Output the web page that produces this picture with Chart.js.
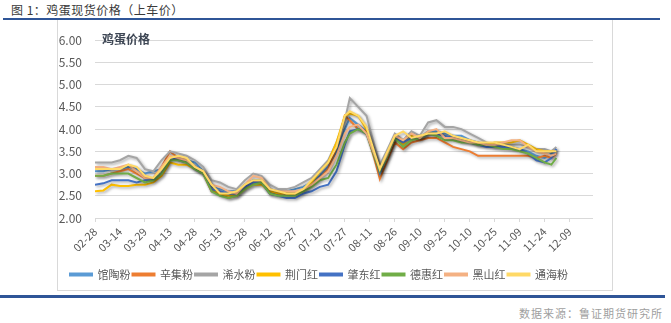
<!DOCTYPE html>
<html>
<head>
<meta charset="utf-8">
<script src="https://cdn.jsdelivr.net/npm/chart.js@4"></script>
<style>
  body { margin: 0; width: 671px; height: 323px; background: #fff; position: relative; overflow: hidden;
         font-family: "Noto Sans CJK SC", "Noto Sans", sans-serif; }
  #fig-title { position: absolute; left: 11px; top: 1px; font-size: 12px; color: #3a3a3a; letter-spacing: 0.5px; }
  #top-rule { position: absolute; left: 3px; top: 18px; width: 657px; height: 2px; background: #2f5597; }
  #frame { position: absolute; left: 57px; top: 20px; width: 554px; height: 270px; border: 1px solid #d9d9d9; border-top: none; }
  #bottom-rule { position: absolute; left: 0; top: 295px; width: 665px; height: 3px; background: #2f5597; }
  #source { position: absolute; right: 8px; top: 305px; font-size: 11px; color: #a0a0a0; letter-spacing: 1px; }
  #inner-title { position: absolute; left: 102px; top: 30px; font-size: 12px; font-weight: bold; color: #3d4654; }
  #wrap { position: absolute; left: 45px; top: 20px; width: 548px; height: 270px; }
</style>
</head>
<body>
<div id="fig-title">图 1：鸡蛋现货价格（上车价）</div>
<div id="top-rule"></div>
<div id="frame"></div>
<div id="wrap"><canvas id="eggChart" width="548" height="270"></canvas></div>
<div id="inner-title">鸡蛋价格</div>
<div id="bottom-rule"></div>
<div id="source">数据来源：鲁证期货研究所</div>
<script>
// days counted from 02-28
const days = [0, 5, 10, 15, 20, 25, 30, 35, 40, 45, 50, 55, 60, 65, 70, 75, 80, 85, 90, 95,
  100, 105, 110, 115, 120, 125, 130, 135, 140, 145, 150, 153, 158, 163, 168, 171, 175, 180, 185, 190,
  195, 200, 205, 210, 215, 220, 225, 230, 235, 240, 245, 250, 255, 260, 265, 270, 274, 277];

const tickLabels = ["02-28", "03-14", "03-29", "04-13", "04-28", "05-13", "05-28", "06-12", "06-27", "07-12",
  "07-27", "08-11", "08-26", "09-10", "09-25", "10-10", "10-25", "11-09", "11-24", "12-09"];

const seriesNames = ["馆陶粉", "辛集粉", "浠水粉", "荆门红", "肇东红", "德惠红", "黑山红", "通海粉"];
const seriesColors = ["#5b9bd5", "#ed7d31", "#a5a5a5", "#ffc000", "#4472c4", "#70ad47", "#f4b183", "#ffd966"];

const guantao = [3.05, 3.05, 3.10, 3.10, 3.15, 3.10, 3.00, 3.05, 3.10, 3.35,
  3.35, 3.30, 3.25, 3.05, 2.70, 2.65, 2.60, 2.60, 2.75, 2.85,
  2.85, 2.65, 2.60, 2.60, 2.65, 2.70, 2.80, 2.95, 3.15, 3.50,
  4.00, 4.25, 4.10, 3.95, 3.40, 3.05, 3.40, 3.85, 3.70, 3.85,
  3.80, 3.95, 3.95, 3.90, 3.85, 3.85, 3.75, 3.70, 3.65, 3.60,
  3.60, 3.60, 3.55, 3.50, 3.40, 3.35, 3.45, 3.55];
const xinji = [2.95, 2.95, 3.00, 3.05, 3.10, 3.00, 2.90, 2.90, 3.15, 3.50,
  3.35, 3.30, 3.15, 3.00, 2.60, 2.55, 2.45, 2.50, 2.70, 2.80,
  2.80, 2.55, 2.55, 2.55, 2.55, 2.60, 2.75, 2.90, 3.10, 3.60,
  4.30, 4.20, 4.00, 3.95, 3.30, 2.88, 3.25, 3.70, 3.55, 3.70,
  3.75, 3.80, 3.80, 3.70, 3.60, 3.55, 3.50, 3.40, 3.40, 3.40,
  3.40, 3.40, 3.40, 3.40, 3.35, 3.40, 3.35, 3.45];
const xishui = [3.25, 3.25, 3.25, 3.30, 3.40, 3.35, 3.10, 3.05, 3.30, 3.50,
  3.45, 3.40, 3.30, 3.15, 2.85, 2.80, 2.70, 2.65, 2.85, 3.00,
  2.95, 2.75, 2.65, 2.65, 2.70, 2.80, 2.90, 3.10, 3.30, 3.70,
  4.20, 4.70, 4.50, 4.30, 3.60, 3.20, 3.50, 3.90, 3.75, 3.95,
  3.85, 4.15, 4.20, 4.05, 4.05, 4.00, 3.90, 3.80, 3.70, 3.65,
  3.65, 3.65, 3.65, 3.60, 3.55, 3.55, 3.50, 3.60];
const jingmen = [2.60, 2.62, 2.75, 2.72, 2.72, 2.75, 2.75, 2.80, 2.95, 3.25,
  3.20, 3.20, 3.10, 3.00, 2.65, 2.55, 2.50, 2.50, 2.65, 2.75,
  2.75, 2.60, 2.55, 2.55, 2.50, 2.60, 2.80, 3.05, 3.25, 3.70,
  4.30, 4.35, 4.30, 4.00, 3.40, 3.00, 3.35, 3.80, 3.65, 3.85,
  3.80, 3.90, 3.90, 3.85, 3.80, 3.75, 3.75, 3.65, 3.65, 3.70,
  3.70, 3.70, 3.75, 3.65, 3.55, 3.50, 3.50, 3.50];
const zhaodong = [2.75, 2.78, 2.85, 2.85, 2.85, 2.80, 2.85, 2.85, 3.00, 3.35,
  3.30, 3.25, 3.10, 3.00, 2.65, 2.60, 2.55, 2.55, 2.70, 2.80,
  2.80, 2.55, 2.50, 2.45, 2.45, 2.55, 2.60, 2.70, 2.75, 3.05,
  3.65, 3.95, 4.00, 3.90, 3.40, 3.00, 3.35, 3.80, 3.70, 3.80,
  3.80, 3.90, 3.90, 3.85, 3.80, 3.75, 3.70, 3.65, 3.60, 3.60,
  3.60, 3.55, 3.55, 3.45, 3.30, 3.25, 3.35, 3.55];
const dehui = [2.95, 2.95, 3.00, 3.00, 3.00, 2.90, 2.80, 2.85, 3.00, 3.30,
  3.30, 3.25, 3.10, 3.00, 2.60, 2.50, 2.45, 2.50, 2.65, 2.75,
  2.80, 2.55, 2.50, 2.50, 2.50, 2.60, 2.70, 2.85, 2.90, 3.20,
  3.70, 3.90, 4.00, 3.90, 3.35, 3.05, 3.35, 3.80, 3.60, 3.75,
  3.80, 3.90, 3.85, 3.75, 3.75, 3.70, 3.70, 3.65, 3.65, 3.60,
  3.55, 3.55, 3.50, 3.45, 3.35, 3.25, 3.20, 3.35];
const heishan = [3.15, 3.15, 3.10, 3.15, 3.20, 3.05, 2.90, 2.90, 3.15, 3.40,
  3.35, 3.30, 3.15, 3.05, 2.75, 2.70, 2.60, 2.55, 2.75, 2.95,
  2.90, 2.65, 2.60, 2.60, 2.60, 2.65, 2.75, 2.90, 3.05, 3.40,
  3.90, 4.05, 4.10, 3.90, 3.40, 3.10, 3.40, 3.85, 3.75, 3.90,
  3.80, 3.95, 4.00, 3.80, 3.80, 3.75, 3.70, 3.70, 3.65, 3.65,
  3.70, 3.75, 3.75, 3.60, 3.50, 3.45, 3.40, 3.45];
const tonghai = [3.10, 3.10, 3.10, 3.10, 3.20, 3.15, 2.95, 2.90, 3.10, 3.35,
  3.40, 3.35, 3.15, 3.05, 2.75, 2.55, 2.55, 2.60, 2.75, 2.85,
  2.85, 2.65, 2.60, 2.55, 2.55, 2.65, 2.85, 3.05, 3.25, 3.60,
  4.30, 4.40, 4.30, 4.05, 3.45, 3.10, 3.45, 3.85, 3.95, 3.80,
  3.85, 3.90, 3.90, 3.95, 3.85, 3.80, 3.75, 3.70, 3.70, 3.70,
  3.65, 3.60, 3.55, 3.65, 3.50, 3.50, 3.50, 3.50];

const allSeries = [guantao, xinji, xishui, jingmen, zhaodong, dehui, heishan, tonghai];

const datasets = allSeries.map((vals, i) => ({
  label: seriesNames[i],
  data: days.map((d, j) => ({ x: d, y: vals[j] })),
  borderColor: seriesColors[i],
  backgroundColor: seriesColors[i],
  borderWidth: 2,
  pointRadius: 0,
  tension: 0,
  order: allSeries.length - i   // later series on top, like the original
}));

// soft drop shadow under the lines
const lineShadow = {
  id: "lineShadow",
  beforeDatasetDraw(chart) {
    const c = chart.ctx;
    c.save();
    c.shadowColor = "rgba(0,0,0,0.35)";
    c.shadowBlur = 3;
    c.shadowOffsetX = 1.5;
    c.shadowOffsetY = 1.5;
  },
  afterDatasetDraw(chart) {
    chart.ctx.restore();
  }
};

const fontFam = '"Noto Sans CJK SC", "Liberation Sans", sans-serif';

new Chart(document.getElementById("eggChart"), {
  type: "line",
  data: { datasets: datasets },
  options: {
    responsive: false,
    animation: false,
    layout: { padding: { top: 10, left: 0, right: 0, bottom: 0 } },
    plugins: {
      tooltip: { enabled: false },
      legend: {
        position: "bottom",
        labels: {
          font: { size: 11, family: fontFam },
          color: "#595959",
          boxWidth: 22,
          boxHeight: 2,
          padding: 2,
          sort: (a, b) => a.datasetIndex - b.datasetIndex
        }
      }
    },
    scales: {
      x: {
        type: "linear",
        min: 0,
        max: 299,
        afterFit: (s) => { s.height = 49; },
        afterBuildTicks: (s) => { s.ticks = s.ticks.filter(t => t.value % 15 === 0); },
        ticks: {
          stepSize: 15,
          autoSkip: false,
          maxRotation: 45,
          minRotation: 45,
          color: "#595959",
          font: { size: 11, family: fontFam },
          callback: (v) => tickLabels[v / 15] ?? ""
        },
        grid: { drawOnChartArea: false, drawTicks: true, tickLength: 4, color: "#d9d9d9" },
        border: { color: "#d9d9d9" }
      },
      y: {
        min: 2,
        max: 6,
        afterFit: (s) => { s.width = 50; },
        ticks: {
          stepSize: 0.5,
          padding: 13,
          color: "#595959",
          font: { size: 12, family: fontFam },
          callback: (v) => v.toFixed(2)
        },
        grid: { color: "#d9d9d9", drawTicks: false },
        border: { display: false }
      }
    }
  },
  plugins: [lineShadow]
});
</script>
</body>
</html>
